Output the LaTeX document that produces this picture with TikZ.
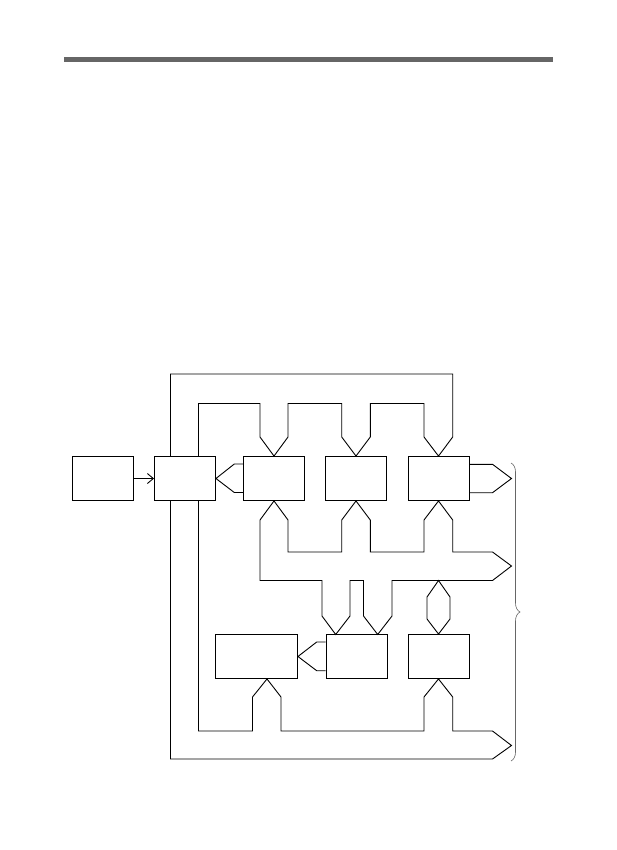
\documentclass[tikz,border=0pt]{standalone}
\usepackage{amssymb}
\usepackage{amsmath}
\usetikzlibrary{arrows,arrows.meta,calc,decorations.pathreplacing}

\begin{document}
\begin{tikzpicture}[x=1pt,y=-1pt,line width=0.9pt,
    blk/.style={draw,fill=white,minimum width=61,minimum height=44,inner sep=0pt},
    bus/.style={draw,line join=miter}]
            \useasboundingbox (0,0) rectangle (617,850);
            \fill[black!60] (64,57) rectangle (553,62);

            \node[blk] (A) at (103,478.5) {};
            \node[blk] (B) at (185,478.5) {};
            \node[blk] (C) at (274,478.5) {};
            \node[blk] (D) at (356,478.5) {};
            \node[blk] (E) at (438.5,478.5) {};
            \node[blk,minimum width=82] (H) at (256.5,656.5) {};
            \node[blk] (F) at (356.5,656.5) {};
            \node[blk] (G) at (438.5,656.5) {};
            \coordinate (Hin) at ($(H.south)+(10.5,0)$);

            \draw[-{Straight Barb[length=6pt,width=10pt]}] (A) -- (B);

            \draw[bus] (B.north -| 198.5,0) -- (198.5,403.5) -- (260,403.5) -- (260,437) -- (C.north) -- (288,437) -- (288,403.5)
                -- (341.7,403.5) -- (341.7,437) -- (D.north) -- (370.3,437) -- (370.3,403.5)
                -- (424,403.5) -- (424,437) -- (E.north) -- (452.7,437) -- (452.7,374) -- (170.5,374) -- (B.north -| 170.5,0);

            \draw[bus] (260,520) -- (C.south) -- (288,520) -- (288,552) -- (341.7,552) -- (341.7,520) -- (D.south) -- (370.3,520)
                -- (370.3,552) -- (424,552) -- (424,520) -- (E.south) -- (452.7,520) -- (452.7,552) -- (492.5,552) -- (511.5,566)
                -- (492.5,580.5) -- (392,580.5) -- (392,616) -- (377.7,634.5) -- (363.5,616) -- (363.5,580.5) -- (350,580.5)
                -- (350,616) -- (335.7,634.5) -- (322,616) -- (322,580.5) -- (260,580.5) -- cycle;

            \draw[bus] (B.south -| 170.5,0) -- (170.5,759) -- (492.5,759) -- (511.5,745.5) -- (492.5,731) -- (452.7,731) -- (452.7,697)
                -- (G.south) -- (424,697) -- (424,731) -- (281,731) -- (281,697) -- (Hin) -- (252.5,697) -- (252.5,731)
                -- (198.5,731) -- (B.south -| 198.5,0);

            \draw[bus] (C.west |- 0,464) -- (234.3,464) -- (B.east) -- (234.3,492.5) -- (C.west |- 0,492.5);
            \draw[bus] (F.west |- 0,642) -- (316.7,642) -- (H.east) -- (316.7,670.7) -- (F.west |- 0,670.7);
            \draw[bus] (E.east |- 0,464.3) -- (492.5,464.3) -- (511.5,478.5) -- (492.5,492.7) -- (E.east |- 0,492.7);
            \draw[bus] (438.5,580.5) -- (450,597) -- (450,619) -- (G.north) -- (427,619) -- (427,597) -- cycle;

            \draw[black!60,line width=0.6pt,decorate,decoration={brace,amplitude=9pt}] (511,463) -- (511,761);
        \end{tikzpicture}
\end{document}
